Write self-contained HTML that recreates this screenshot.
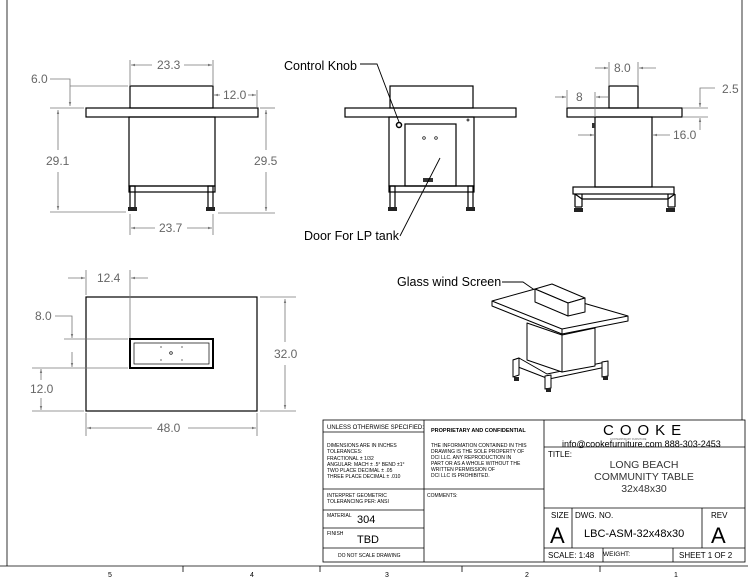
<!DOCTYPE html>
<html><head><meta charset="utf-8"><style>
html,body{margin:0;padding:0;background:#fff}
svg{display:block}
text{font-family:"Liberation Sans",sans-serif}
.o{stroke:#000;fill:none;stroke-width:1.2}
.d{stroke:#777;fill:none;stroke-width:.8}
.dt{fill:#666;font-size:12px}
.t{stroke:#000;fill:none;stroke-width:.8}
.s{font-size:5px;fill:#000}
</style></head><body>
<svg width="748" height="582" viewBox="0 0 748 582" xmlns="http://www.w3.org/2000/svg">
<defs><marker id="a" viewBox="0 0 10 10" refX="10" refY="5" markerWidth="7" markerHeight="5" orient="auto-start-reverse"><path d="M0,2L10,5L0,8z" fill="#777"/></marker></defs>
<line x1="7" y1="0" x2="7" y2="566" class="t"/>
<line x1="742" y1="0" x2="742" y2="420" class="t"/>
<!-- LEFT VIEW -->
<g class="o">
<rect x="130" y="86" width="83" height="22"/>
<rect x="86" y="108" width="172" height="9"/>
<rect x="129" y="117" width="86" height="69"/>
<rect x="129" y="186" width="86" height="6"/>
<rect x="130" y="186" width="5" height="22"/><rect x="208" y="186" width="5" height="22"/>
</g>
<rect x="128" y="207" width="9" height="4" fill="#222"/><rect x="206" y="207" width="9" height="4" fill="#222"/>
<g class="d">
<line x1="130" y1="60" x2="130" y2="86"/><line x1="213" y1="60" x2="213" y2="86"/>
<line x1="131" y1="65" x2="152" y2="65" marker-start="url(#a)"/><line x1="184" y1="65" x2="212" y2="65" marker-end="url(#a)"/>
<line x1="257" y1="90" x2="257" y2="107"/>
<line x1="214" y1="95" x2="220" y2="95" marker-start="url(#a)"/><line x1="248" y1="95" x2="256" y2="95" marker-end="url(#a)"/>
<polyline points="50,79 70,79 70,106" marker-end="url(#a)"/><line x1="70" y1="86" x2="128" y2="86"/>
<line x1="50" y1="108" x2="84" y2="108"/><line x1="50" y1="212" x2="126" y2="212"/>
<line x1="58" y1="110" x2="58" y2="150" marker-start="url(#a)"/><line x1="58" y1="172" x2="58" y2="210" marker-end="url(#a)"/>
<line x1="260" y1="108" x2="275" y2="108"/><line x1="218" y1="213" x2="275" y2="213"/>
<line x1="266" y1="110" x2="266" y2="150" marker-start="url(#a)"/><line x1="266" y1="172" x2="266" y2="211" marker-end="url(#a)"/>
<line x1="130" y1="214" x2="130" y2="235"/><line x1="213" y1="214" x2="213" y2="235"/>
<line x1="131" y1="228" x2="155" y2="228" marker-start="url(#a)"/><line x1="187" y1="228" x2="212" y2="228" marker-end="url(#a)"/>
</g>
<text class="dt" x="157" y="69">23.3</text><text class="dt" x="223" y="99">12.0</text>
<text class="dt" x="31" y="83">6.0</text><text class="dt" x="46" y="165">29.1</text>
<text class="dt" x="254" y="165">29.5</text><text class="dt" x="159" y="232">23.7</text>
<!-- MIDDLE VIEW -->
<g class="o">
<rect x="390" y="86" width="83" height="22"/>
<rect x="345" y="108" width="171" height="9"/>
<rect x="389" y="117" width="85" height="69"/>
<rect x="405" y="124" width="51" height="62"/>
<rect x="389" y="186" width="85" height="6"/>
<rect x="390" y="186" width="5" height="22"/><rect x="468" y="186" width="5" height="22"/>
<circle cx="399" cy="125" r="2.5" stroke-width="1.5"/>
<circle cx="424" cy="138" r="1.3" stroke-width=".7"/><circle cx="436" cy="138" r="1.3" stroke-width=".7"/>
<circle cx="468" cy="120" r="1" stroke-width=".7"/>
</g>
<rect x="423" y="178" width="10" height="4" fill="#333"/>
<rect x="388" y="207" width="9" height="4" fill="#222"/><rect x="466" y="207" width="9" height="4" fill="#222"/>
<g stroke="#000" fill="none" stroke-width=".9">
<polyline points="360,64 377,64 399,122"/>
<polyline points="400,236 440,158"/>
<polyline points="502,282 523,282 536,291"/>
</g>
<text x="284" y="70" font-size="12.5">Control Knob</text>
<text x="304" y="240" font-size="12.5">Door For LP tank</text>
<text x="397" y="286" font-size="12.5">Glass wind Screen</text>
<!-- RIGHT VIEW -->
<g class="o">
<rect x="609" y="86" width="29" height="22"/>
<rect x="567" y="108" width="115" height="9"/>
<rect x="595" y="117" width="57" height="70"/>
<rect x="573" y="187" width="101" height="7"/>
<line x1="582" y1="194" x2="582" y2="207"/><line x1="575" y1="194" x2="575" y2="207"/><line x1="575" y1="207" x2="582" y2="207"/>
<line x1="668" y1="194" x2="668" y2="207"/><line x1="675" y1="194" x2="675" y2="207"/><line x1="668" y1="207" x2="675" y2="207"/>
<line x1="575" y1="194" x2="582" y2="199"/><line x1="582" y1="199" x2="668" y2="199"/><line x1="668" y1="199" x2="675" y2="194"/>
</g>
<rect x="592" y="123" width="3" height="5" fill="#333"/>
<rect x="574" y="208" width="9" height="4" fill="#222"/><rect x="666" y="208" width="9" height="4" fill="#222"/>
<g class="d">
<line x1="609" y1="62" x2="609" y2="86"/><line x1="638" y1="62" x2="638" y2="86"/>
<line x1="595" y1="68" x2="608" y2="68" marker-end="url(#a)"/><line x1="656" y1="68" x2="639" y2="68" marker-end="url(#a)"/>
<line x1="567" y1="90" x2="567" y2="107"/><line x1="595" y1="92" x2="595" y2="117"/>
<line x1="555" y1="97" x2="566" y2="97" marker-end="url(#a)"/><line x1="608" y1="97" x2="596" y2="97" marker-end="url(#a)"/>
<line x1="683" y1="108" x2="708" y2="108"/><line x1="683" y1="117" x2="708" y2="117"/>
<polyline points="715,88 700,88 700,107" marker-end="url(#a)"/><line x1="700" y1="130" x2="700" y2="118" marker-end="url(#a)"/>
<line x1="578" y1="135" x2="594" y2="135" marker-end="url(#a)"/><line x1="670" y1="135" x2="653" y2="135" marker-end="url(#a)"/>
</g>
<text class="dt" x="614" y="72">8.0</text><text class="dt" x="576" y="101">8</text>
<text class="dt" x="722" y="93">2.5</text><text class="dt" x="673" y="139">16.0</text>
<!-- TOP VIEW -->
<g class="o">
<rect x="86" y="297" width="171" height="114"/>
<rect x="130" y="339" width="83" height="29" stroke-width="2"/>
<rect x="134" y="343" width="75" height="21" stroke-width=".7"/>
<circle cx="171" cy="353" r="1.3" stroke-width=".7"/>
</g>
<g fill="#000"><circle cx="161" cy="347" r=".6"/><circle cx="182" cy="347" r=".6"/><circle cx="161" cy="360" r=".6"/><circle cx="182" cy="360" r=".6"/></g>
<g class="d">
<line x1="86" y1="270" x2="86" y2="295"/><line x1="130" y1="270" x2="130" y2="338"/>
<line x1="68" y1="278" x2="85" y2="278" marker-end="url(#a)"/><line x1="148" y1="278" x2="131" y2="278" marker-end="url(#a)"/>
<line x1="64" y1="339" x2="128" y2="339"/><line x1="32" y1="368" x2="128" y2="368"/>
<polyline points="55,316 72,316 72,338" marker-end="url(#a)"/><line x1="72" y1="352" x2="72" y2="367" marker-end="url(#a)"/>
<line x1="41" y1="380" x2="41" y2="369" marker-end="url(#a)"/><line x1="41" y1="398" x2="41" y2="410" marker-end="url(#a)"/>
<line x1="32" y1="411" x2="84" y2="411"/>
<line x1="260" y1="297" x2="296" y2="297"/><line x1="260" y1="411" x2="296" y2="411"/>
<line x1="285" y1="299" x2="285" y2="342" marker-start="url(#a)"/><line x1="285" y1="365" x2="285" y2="409" marker-end="url(#a)"/>
<line x1="86" y1="413" x2="86" y2="436"/><line x1="257" y1="413" x2="257" y2="436"/>
<line x1="87" y1="428" x2="152" y2="428" marker-start="url(#a)"/><line x1="188" y1="428" x2="256" y2="428" marker-end="url(#a)"/>
</g>
<text class="dt" x="97" y="282">12.4</text><text class="dt" x="35" y="320">8.0</text>
<text class="dt" x="30" y="393">12.0</text><text class="dt" x="274" y="358">32.0</text>
<text class="dt" x="157" y="432">48.0</text>
<!-- ISO VIEW -->
<g stroke="#000" fill="#fff" stroke-width="1" stroke-linejoin="round">
<!-- base frame -->
<polygon points="513,360 519,358 547,374 606,362 606,367 549,379 513,365"/>
<polygon points="513,360 519,358 519,375 513,377"/>
<polygon points="545,376 551,375 551,388 545,389"/>
<polygon points="602,362 608,361 608,376 602,377"/>
<!-- body -->
<polygon points="527,323 562,335 562,372 527,360"/>
<polygon points="562,335 595,328 595,366 562,372"/>
<!-- tabletop -->
<polygon points="492,301 535,289 628,316 628,321 562,334 492,306"/>
<polyline points="492,301 562,329 628,316" fill="none"/>
<line x1="562" y1="329" x2="562" y2="334"/>
<!-- screen -->
<polygon points="535,289 552,284 585,298 568,303"/>
<polygon points="535,289 568,303 568,316 535,302"/>
<polygon points="568,303 585,298 585,312 568,316"/>
</g>
<g fill="#222"><rect x="514" y="377" width="5" height="4"/><rect x="546" y="388" width="5" height="4"/><rect x="603" y="376" width="5" height="4"/></g>
<!-- TITLE BLOCK -->
<g class="t">
<rect x="323" y="420" width="422" height="142"/>
<line x1="424" y1="420" x2="424" y2="562"/><line x1="544" y1="420" x2="544" y2="562"/>
<line x1="323" y1="432" x2="424" y2="432"/><line x1="323" y1="489" x2="544" y2="489"/>
<line x1="323" y1="510" x2="424" y2="510"/><line x1="323" y1="528" x2="424" y2="528"/><line x1="323" y1="548" x2="424" y2="548"/>
<line x1="544" y1="447" x2="745" y2="447"/><line x1="544" y1="508" x2="745" y2="508"/><line x1="544" y1="548" x2="745" y2="548"/>
<line x1="572" y1="508" x2="572" y2="548"/><line x1="702" y1="508" x2="702" y2="548"/>
<line x1="603" y1="548" x2="603" y2="562"/><line x1="673" y1="548" x2="673" y2="562"/>
<line x1="0" y1="566" x2="748" y2="566"/>
<line x1="183" y1="566" x2="183" y2="572"/><line x1="320" y1="566" x2="320" y2="572"/><line x1="462" y1="566" x2="462" y2="572"/><line x1="600" y1="566" x2="600" y2="572"/>
</g>
<text x="327" y="429" font-size="6">UNLESS OTHERWISE SPECIFIED:</text>
<text class="s" x="327" y="447">DIMENSIONS ARE IN INCHES</text>
<text class="s" x="327" y="453">TOLERANCES:</text>
<text class="s" x="327" y="460">FRACTIONAL ± 1/32</text>
<text class="s" x="327" y="466">ANGULAR: MACH ± .5° BEND ±1°</text>
<text class="s" x="327" y="472">TWO PLACE DECIMAL   ± .05</text>
<text class="s" x="327" y="478">THREE PLACE DECIMAL  ± .010</text>
<text class="s" x="327" y="497">INTERPRET GEOMETRIC</text>
<text class="s" x="327" y="503">TOLERANCING PER: ANSI</text>
<text class="s" x="327" y="517">MATERIAL</text><text x="357" y="523" font-size="11">304</text>
<text class="s" x="327" y="535">FINISH</text><text x="357" y="543" font-size="11">TBD</text>
<text class="s" x="338" y="557">DO NOT SCALE DRAWING</text>
<text x="431" y="432" font-size="5.5" font-weight="bold">PROPRIETARY AND CONFIDENTIAL</text>
<text class="s" x="431" y="447">THE INFORMATION CONTAINED IN THIS</text>
<text class="s" x="431" y="453">DRAWING IS THE SOLE PROPERTY OF</text>
<text class="s" x="431" y="459">DCI LLC.  ANY REPRODUCTION IN</text>
<text class="s" x="431" y="465">PART OR AS A WHOLE WITHOUT THE</text>
<text class="s" x="431" y="471">WRITTEN PERMISSION OF</text>
<text class="s" x="431" y="477">DCI LLC IS PROHIBITED.</text>
<text class="s" x="427" y="497">COMMENTS:</text>
<text x="603" y="435" font-size="15" letter-spacing="6">COOKE</text>
<text x="610" y="440" font-size="2.5" fill="#666">CONTEMPORARY FURNITURE</text>
<text x="562" y="447" font-size="9">info@cookefurniture.com 888-303-2453</text>
<text x="548" y="457" font-size="8">TITLE:</text>
<text x="644" y="468" font-size="10.5" text-anchor="middle" fill="#333">LONG BEACH</text>
<text x="644" y="480" font-size="10.5" text-anchor="middle" fill="#333">COMMUNITY TABLE</text>
<text x="644" y="492" font-size="10.5" text-anchor="middle" fill="#333">32x48x30</text>
<text x="551" y="518" font-size="8">SIZE</text><text x="550" y="543" font-size="22">A</text>
<text x="575" y="518" font-size="8">DWG.  NO.</text>
<text x="584" y="537" font-size="11">LBC-ASM-32x48x30</text>
<text x="711" y="518" font-size="8">REV</text><text x="711" y="543" font-size="22">A</text>
<text x="548" y="558" font-size="8">SCALE: 1:48</text>
<text x="603" y="556" font-size="6.5">WEIGHT:</text>
<text x="679" y="558" font-size="8">SHEET 1 OF 2</text>
<g font-size="7"><text x="108" y="577">5</text><text x="250" y="577">4</text><text x="385" y="577">3</text><text x="525" y="577">2</text><text x="674" y="577">1</text></g>
</svg>
</body></html>
